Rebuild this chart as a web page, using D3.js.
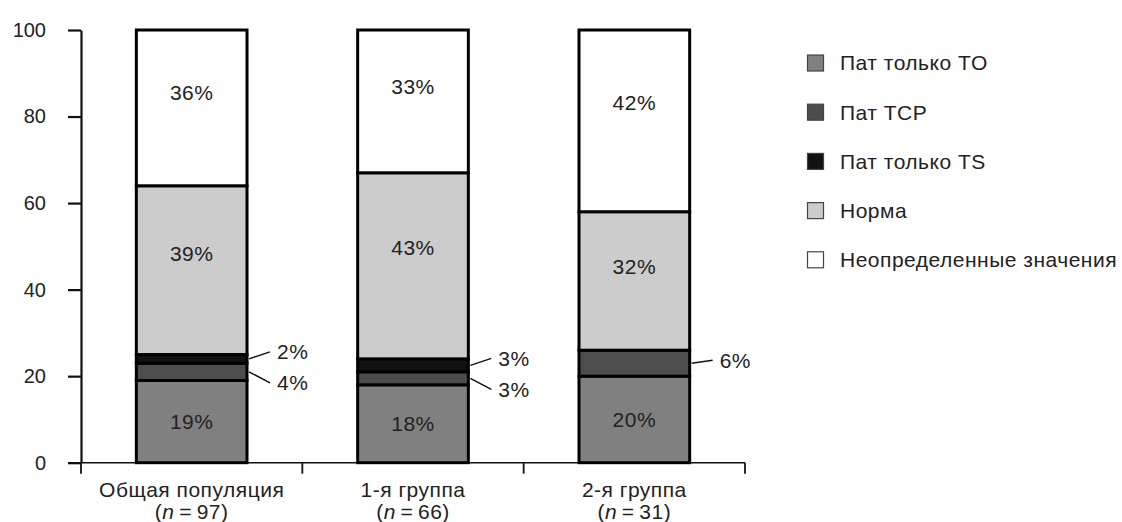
<!DOCTYPE html>
<html>
<head>
<meta charset="utf-8">
<script src="https://cdn.jsdelivr.net/npm/d3@7"></script>
<style>
  html, body { margin: 0; padding: 0; background: #fff; }
  svg text { font-family: "Liberation Sans", Arial, Helvetica, sans-serif; fill: #222; }
</style>
</head>
<body>
<svg id="chart" width="1122" height="522"></svg>
<script>
// Groups shown along the x axis
const groups = ["Общая популяция", "1-я группа", "2-я группа"];
const groupN = [97, 66, 31];

// Series, stacked bottom to top
const seriesNames = ["Пат только TO", "Пат TCP", "Пат только TS", "Норма", "Неопределенные значения"];
const seriesColors = ["#808080", "#4d4d4d", "#111111", "#cccccc", "#ffffff"];

// Percentages per series, one value per group
const patTO = [19, 18, 20];
const patTCP = [4, 3, 6];
const patTS = [2, 3, 0];
const norma = [39, 43, 32];
const undetermined = [36, 33, 42];

const yTicks = [0, 20, 40, 60, 80, 100];

const seriesValues = [patTO, patTCP, patTS, norma, undetermined];
const keys = seriesNames;
const rows = groups.map((g, i) => {
  const r = { group: g, n: groupN[i] };
  keys.forEach((k, s) => r[k] = seriesValues[s][i]);
  return r;
});

const svg = d3.select("#chart");
const margin = { left: 81, right: 377, top: 30, bottom: 59 };
const W = 1122, H = 522;
const plotW = W - margin.left - margin.right;

const x = d3.scaleBand()
  .domain(groups)
  .range([margin.left, W - margin.right])
  .paddingInner(0.5)
  .paddingOuter(0.25);

const y = d3.scaleLinear()
  .domain([0, 100])
  .range([H - margin.bottom - 0.3, margin.top]);

const stack = d3.stack().keys(keys);
const stacked = stack(rows);

const FS = 21;       // label text size
const LS = "0.5px";  // label letter spacing

// Y axis
const yAxis = svg.append("g")
  .attr("transform", `translate(${margin.left},0)`)
  .call(d3.axisLeft(y).tickValues(yTicks).tickSize(13).tickPadding(22).tickSizeOuter(0));
yAxis.select(".domain").attr("stroke", "#111").attr("stroke-width", 2.2);
yAxis.selectAll(".tick line").attr("stroke", "#111").attr("stroke-width", 2.2);
yAxis.selectAll(".tick text").attr("font-size", 20).attr("fill", "#222")
  .attr("font-family", "Liberation Sans, Arial, sans-serif");

// X axis baseline with group boundary ticks
const y0 = y(0);
svg.append("line")
  .attr("x1", margin.left - 13).attr("x2", W - margin.right)
  .attr("y1", y0).attr("y2", y0)
  .attr("stroke", "#111").attr("stroke-width", 1.6);
const boundaries = d3.range(groups.length + 1).map(i => margin.left + i * (plotW / groups.length));
svg.selectAll(".xtick").data(boundaries).join("line")
  .attr("class", "xtick")
  .attr("x1", d => d).attr("x2", d => d)
  .attr("y1", y0).attr("y2", y0 + 11)
  .attr("stroke", "#111").attr("stroke-width", 1.8);

// Bars
const layer = svg.append("g").selectAll("g").data(stacked).join("g")
  .attr("fill", (d, i) => seriesColors[i]);
layer.selectAll("rect").data(d => d.filter(p => p[1] - p[0] > 0)).join("rect")
  .attr("x", d => x(d.data.group))
  .attr("width", x.bandwidth())
  .attr("y", d => y(d[1]))
  .attr("height", d => y(d[0]) - y(d[1]))
  .attr("stroke", "#000")
  .attr("stroke-width", 3);

// In-bar percentage labels for the large segments
const inside = [0, 3, 4];
inside.forEach(s => {
  svg.append("g").selectAll("text").data(stacked[s]).join("text")
    .attr("x", d => x(d.data.group) + x.bandwidth() / 2)
    .attr("y", d => {
      const v = d[1] - d[0];
      const mid = (d[0] + d[1]) / 2 + (s === 0 ? 0 : v * 0.1);
      return y(mid);
    })
    .attr("dy", "0.35em")
    .attr("text-anchor", "middle")
    .attr("font-size", FS)
    .attr("letter-spacing", LS)
    .text(d => `${d[1] - d[0]}%`);
});

// Callouts for the thin TCP / TS segments
groups.forEach((g, i) => {
  const right = x(g) + x.bandwidth();
  const items = [2, 1]
    .map(s => ({ s, d: stacked[s][i] }))
    .filter(o => o.d[1] - o.d[0] > 0);
  items.forEach((o, k) => {
    const ay = y((o.d[0] + o.d[1]) / 2);
    let dy;
    if (items.length === 1) dy = -3;
    else dy = k === 0 ? -7 : 11;
    svg.append("line")
      .attr("x1", right + 2).attr("y1", ay)
      .attr("x2", right + 23).attr("y2", ay + dy)
      .attr("stroke", "#111").attr("stroke-width", 1.5);
    svg.append("text")
      .attr("x", right + 30)
      .attr("y", ay + dy)
      .attr("dy", "0.35em")
      .attr("font-size", FS)
      .attr("letter-spacing", LS)
      .text(`${o.d[1] - o.d[0]}%`);
  });
});

// Group labels
const cat = svg.append("g").selectAll("g").data(rows).join("g")
  .attr("transform", d => `translate(${x(d.group) + x.bandwidth() / 2},0)`);
cat.append("text")
  .attr("y", y0 + 27)
  .attr("dy", "0.35em")
  .attr("text-anchor", "middle")
  .attr("font-size", FS)
  .attr("letter-spacing", LS)
  .text(d => d.group);
const nLine = cat.append("text")
  .attr("y", y0 + 49)
  .attr("dy", "0.35em")
  .attr("text-anchor", "middle")
  .attr("font-size", FS)
  .attr("letter-spacing", LS);
nLine.append("tspan").text("(");
nLine.append("tspan").attr("font-style", "italic").text("n");
nLine.append("tspan").text(d => `\u2009=\u2009${d.n})`);

// Legend
const legend = svg.append("g").attr("transform", "translate(807,63)");
const li = legend.selectAll("g").data(seriesNames).join("g")
  .attr("transform", (d, i) => `translate(0,${i * 49.2})`);
li.append("rect")
  .attr("x", 0.5).attr("y", -8)
  .attr("width", 16).attr("height", 16)
  .attr("fill", (d, i) => seriesColors[i])
  .attr("stroke", "#444").attr("stroke-width", 1.2);
li.append("text")
  .attr("x", 33).attr("dy", "0.35em")
  .attr("font-size", FS)
  .attr("letter-spacing", LS)
  .text(d => d);
</script>
</body>
</html>
